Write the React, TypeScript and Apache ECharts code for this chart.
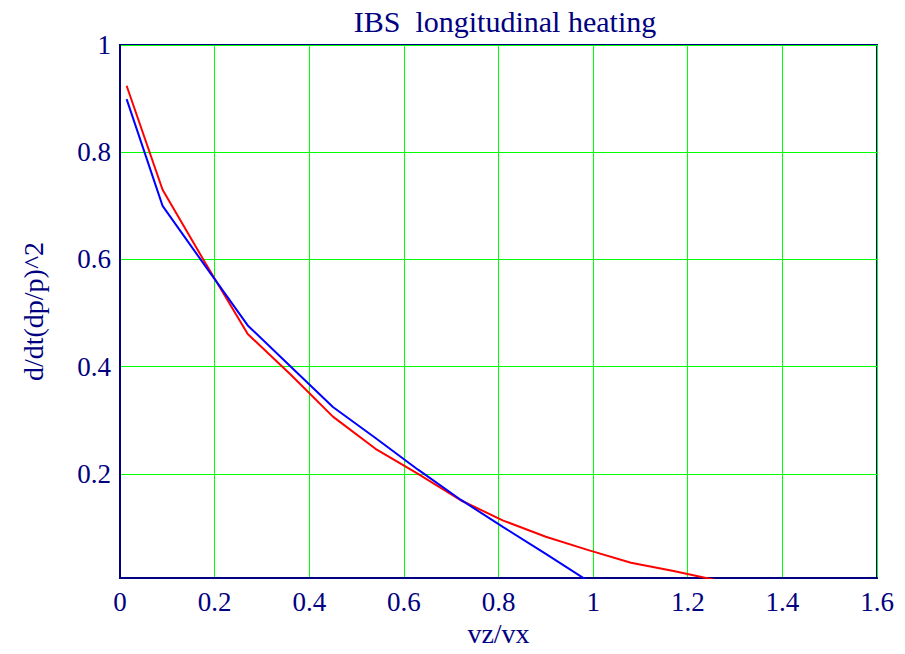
import React, { useEffect, useRef } from "react";
import * as echarts from "echarts";

const xValues = [0.014, 0.09, 0.18, 0.27, 0.36, 0.45, 0.54, 0.63, 0.72, 0.81, 0.9, 0.99, 1.08, 1.17, 1.26];
const redValues = [0.924, 0.73, 0.594, 0.461, 0.386, 0.307, 0.247, 0.2, 0.151, 0.113, 0.083, 0.058, 0.0345, 0.019, 0.002];
const blueXValues = [0.014, 0.09, 0.18, 0.27, 0.36, 0.45, 0.54, 0.63, 0.72, 0.81, 0.9, 0.99];
const blueValues = [0.899, 0.7, 0.588, 0.477, 0.401, 0.325, 0.267, 0.208, 0.152, 0.101, 0.051, 0.0];

const titleText = "IBS  longitudinal heating";
const xName = "vz/vx";
const yName = "d/dt(dp/p)^2";

const NAVY = "#000080";
const FONT = "'Liberation Serif', 'Times New Roman', serif";

export default function App() {
  const ref = useRef<HTMLDivElement>(null);
  useEffect(() => {
    if (!ref.current) return;
    const chart = echarts.init(ref.current, null, { renderer: "svg" });
    const red = xValues.map((x, i) => [x, redValues[i]]);
    const blue = blueXValues.map((x, i) => [x, blueValues[i]]);
    chart.setOption({
      animation: false,
      backgroundColor: "#ffffff",
      textStyle: { fontFamily: FONT },
      graphic: [
        {
          type: "text",
          x: 505,
          y: 21,
          style: {
            text: titleText,
            fill: NAVY,
            font: `30px ${FONT}`,
            textAlign: "center",
            textVerticalAlign: "middle",
          },
        },
      ],
      grid: {
        left: 120,
        right: 28,
        top: 45,
        bottom: 76,
        show: true,
        borderColor: NAVY,
        borderWidth: 2,
        backgroundColor: "transparent",
      },
      xAxis: {
        type: "value",
        min: 0,
        max: 1.6,
        interval: 0.2,
        name: xName,
        nameLocation: "middle",
        nameGap: 41,
        nameTextStyle: { color: NAVY, fontSize: 28, fontFamily: FONT },
        axisLine: { show: true, lineStyle: { color: NAVY, width: 2 } },
        axisTick: { show: false },
        axisLabel: { color: NAVY, fontSize: 27, fontFamily: FONT, margin: 10 },
        splitLine: { show: true, lineStyle: { color: "#00ff00", width: 1 } },
      },
      yAxis: {
        type: "value",
        min: 0.006,
        max: 1,
        splitNumber: 5,
        name: yName,
        nameLocation: "middle",
        nameGap: 73,
        nameTextStyle: { color: NAVY, fontSize: 28, fontFamily: FONT },
        axisLine: { show: true, lineStyle: { color: NAVY, width: 2 } },
        axisTick: { show: false },
        axisLabel: {
          color: NAVY,
          fontSize: 27,
          fontFamily: FONT,
          margin: 9,
          showMinLabel: false,
          formatter: (v: number) => (v < 0.1 ? "" : String(Math.round(v * 10) / 10)),
        },
        splitLine: { show: true, lineStyle: { color: "#00ff00", width: 1 } },
      },
      series: [
        {
          type: "line",
          data: red,
          showSymbol: false,
          symbol: "none",
          clip: true,
          lineStyle: { color: "#ff0000", width: 2 },
          z: 3,
        },
        {
          type: "line",
          data: blue,
          showSymbol: false,
          symbol: "none",
          clip: true,
          lineStyle: { color: "#0000ff", width: 2 },
          z: 4,
        },
      ],
    });
    return () => chart.dispose();
  }, []);
  return (
    <div
      ref={ref}
      style={{ position: "absolute", left: 0, top: 0, width: 905, height: 654 }}
    />
  );
}
